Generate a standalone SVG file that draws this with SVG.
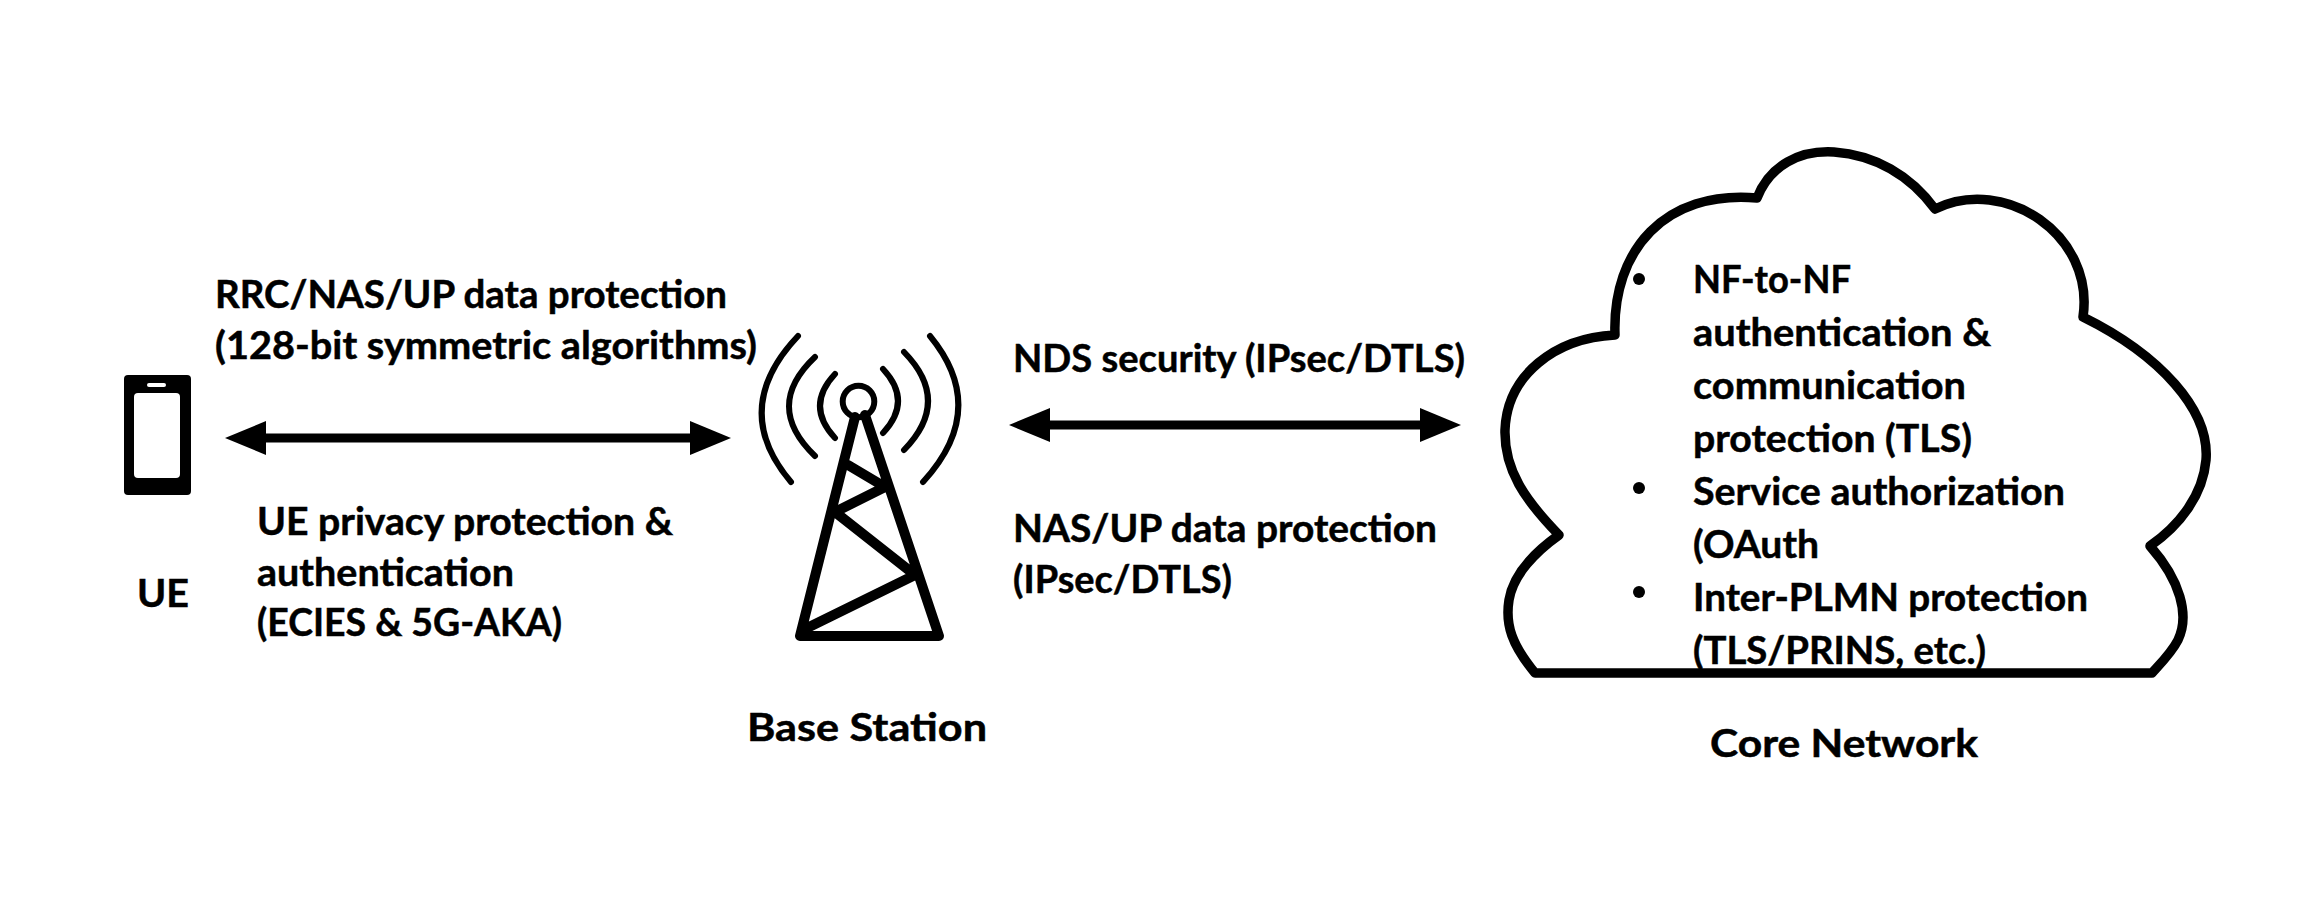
<svg xmlns="http://www.w3.org/2000/svg" width="2320" height="924" viewBox="0 0 2320 924">
<style>
text{font-family:"Lato","Carlito","Open Sans",sans-serif;font-weight:700;font-size:39px;fill:#000;stroke:#000;stroke-width:.5}
.s{fill:none;stroke:#000;stroke-linecap:round;stroke-linejoin:round}
.arc{stroke-width:6}
.t{stroke-width:10}
</style>
<defs>
<marker id="head" markerUnits="userSpaceOnUse" markerWidth="42" markerHeight="34" refX="0" refY="17" orient="auto-start-reverse"><path d="M0 0L41 17L0 34Z" fill="#000"/></marker>
</defs>
<rect width="2320" height="924" fill="#fff"/>
<g id="connectors">
<line x1="266" y1="438" x2="690" y2="438" stroke="#000" stroke-width="9" marker-start="url(#head)" marker-end="url(#head)"/>
<line x1="1050" y1="425" x2="1420" y2="425" stroke="#000" stroke-width="9" marker-start="url(#head)" marker-end="url(#head)"/>
</g>
<g id="ue">
<rect x="124" y="375" width="67" height="120" rx="4" fill="#000"/>
<rect x="134" y="393" width="46" height="85" rx="4" fill="#fff"/>
<rect x="147" y="383" width="19" height="4" rx="2" fill="#fff"/>
<text x="137" y="607" textLength="52" lengthAdjust="spacingAndGlyphs">UE</text>
</g>
<g id="base-station">
<circle cx="858.5" cy="401.5" r="15.8" fill="none" stroke="#000" stroke-width="6"/>
<path class="s t" d="M855 417L800 636H939L865 415M848 465L885 487L835 512L915 575L803 630"/>
<path class="s arc" d="M835 374Q805 406 835 438M815 357Q763 406 815 456M798 336Q729 409 791 482M883 369Q913 401 883 433M904 352Q952 401 904 450M930 336Q990 409 923 482"/>
<text x="747" y="741" textLength="240" lengthAdjust="spacingAndGlyphs">Base Station</text>
</g>
<g id="core-network">
<path class="s" stroke-width="9.5" d="M1535 673C1512 645 1505 625 1509 600C1513 575 1535 552 1559 535C1525 500 1504 470 1505 430C1507 375 1555 338 1615 335C1612 250 1665 190 1757 198C1770 165 1800 150 1834 152C1875 155 1910 175 1935 209C2005 175 2095 235 2083 317C2160 355 2210 410 2206 460C2203 495 2180 525 2150 546C2180 580 2190 615 2178 640C2172 652 2162 662 2152 673Z"/>
<circle cx="1639" cy="279" r="6" fill="#000"/>
<circle cx="1639" cy="488" r="6" fill="#000"/>
<circle cx="1639" cy="592" r="6" fill="#000"/>
<text x="1693" y="293" textLength="158" lengthAdjust="spacingAndGlyphs">NF-to-NF</text>
<text x="1693" y="346" textLength="298" lengthAdjust="spacingAndGlyphs">authentication &amp;</text>
<text x="1693" y="399" textLength="273" lengthAdjust="spacingAndGlyphs">communication</text>
<text x="1693" y="452" textLength="279" lengthAdjust="spacingAndGlyphs">protection (TLS)</text>
<text x="1693" y="505" textLength="372" lengthAdjust="spacingAndGlyphs">Service authorization</text>
<text x="1693" y="558" textLength="126" lengthAdjust="spacingAndGlyphs">(OAuth</text>
<text x="1693" y="611" textLength="395" lengthAdjust="spacingAndGlyphs">Inter-PLMN protection</text>
<text x="1693" y="664" textLength="293" lengthAdjust="spacingAndGlyphs">(TLS/PRINS, etc.)</text>
<text x="1710" y="757" textLength="268" lengthAdjust="spacingAndGlyphs">Core Network</text>
</g>
<g id="labels">
<text x="215" y="308" textLength="512" lengthAdjust="spacingAndGlyphs">RRC/NAS/UP data protection</text>
<text x="215" y="359" textLength="542" lengthAdjust="spacingAndGlyphs">(128-bit symmetric algorithms)</text>
<text x="257" y="535" textLength="416" lengthAdjust="spacingAndGlyphs">UE privacy protection &amp;</text>
<text x="257" y="586" textLength="257" lengthAdjust="spacingAndGlyphs">authentication</text>
<text x="257" y="636" textLength="305" lengthAdjust="spacingAndGlyphs">(ECIES &amp; 5G-AKA)</text>
<text x="1013" y="372" textLength="452" lengthAdjust="spacingAndGlyphs">NDS security (IPsec/DTLS)</text>
<text x="1013" y="542" textLength="424" lengthAdjust="spacingAndGlyphs">NAS/UP data protection</text>
<text x="1013" y="593" textLength="219" lengthAdjust="spacingAndGlyphs">(IPsec/DTLS)</text>
</g>
</svg>
